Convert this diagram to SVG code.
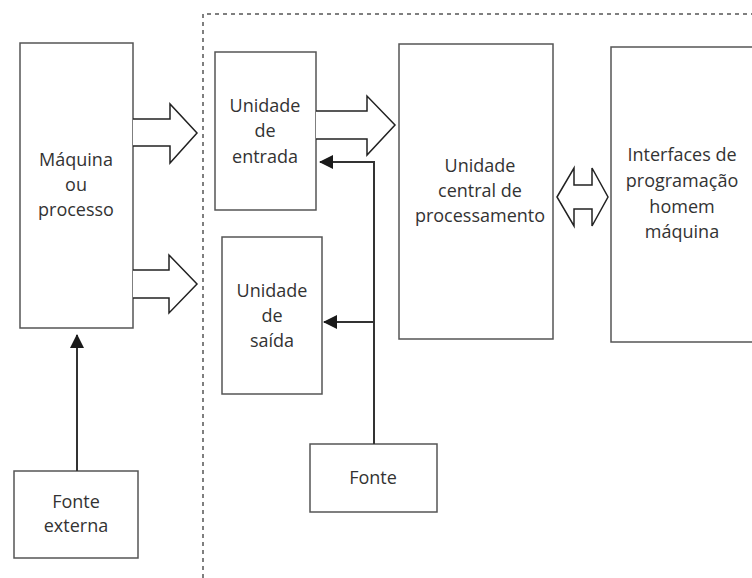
<svg xmlns="http://www.w3.org/2000/svg" width="752" height="578" viewBox="0 0 752 578">
  <defs>
    <marker id="head" viewBox="0 0 14 14" refX="13" refY="7" markerWidth="14" markerHeight="14" markerUnits="userSpaceOnUse" orient="auto">
      <path d="M0,0 L14,7 L0,14 Z" fill="#1a1a1a"/>
    </marker>
  </defs>
  <style>
    .box { fill: #ffffff; stroke: #555555; stroke-width: 1.5; }
    .lbl { font-family: "Open Sans", "Noto Sans", "Liberation Sans", sans-serif; font-size: 18px; fill: #333333; text-anchor: middle; }
    .block { fill: #ffffff; stroke: #222222; stroke-width: 1.5; stroke-linejoin: miter; }
    .wire { fill: none; stroke: #333333; stroke-width: 2; }
    .boundary { fill: none; stroke: #555555; stroke-width: 1.5; stroke-dasharray: 4 4; }
  </style>
  <rect width="752" height="578" fill="#ffffff"/>

  <!-- controller boundary -->
  <path class="boundary" d="M203,578 L203,14 L752,14"/>

  <g id="maquina">
    <rect class="box" x="20" y="43" width="113" height="285"/>
    <text class="lbl" x="76" y="166">Máquina</text>
    <text class="lbl" x="76" y="191">ou</text>
    <text class="lbl" x="76" y="216">processo</text>
  </g>

  <g id="entrada">
    <rect class="box" x="215" y="52" width="101" height="158"/>
    <text class="lbl" x="265" y="112">Unidade</text>
    <text class="lbl" x="265" y="137">de</text>
    <text class="lbl" x="265" y="163">entrada</text>
  </g>

  <g id="saida">
    <rect class="box" x="222" y="237" width="100" height="157"/>
    <text class="lbl" x="272" y="297">Unidade</text>
    <text class="lbl" x="272" y="322">de</text>
    <text class="lbl" x="272" y="347">saída</text>
  </g>

  <g id="cpu">
    <rect class="box" x="399" y="44" width="154" height="295"/>
    <text class="lbl" x="480" y="172">Unidade</text>
    <text class="lbl" x="480" y="197">central de</text>
    <text class="lbl" x="480" y="222">processamento</text>
  </g>

  <g id="ihm">
    <rect class="box" x="611" y="47" width="145" height="295"/>
    <text class="lbl" x="682" y="161">Interfaces de</text>
    <text class="lbl" x="682" y="187">programação</text>
    <text class="lbl" x="682" y="213">homem</text>
    <text class="lbl" x="682" y="238">máquina</text>
  </g>

  <g id="fonte">
    <rect class="box" x="310" y="444" width="127" height="68"/>
    <text class="lbl" x="373" y="484">Fonte</text>
  </g>

  <g id="fonte-externa">
    <rect class="box" x="14" y="471" width="124" height="87"/>
    <text class="lbl" x="76" y="508">Fonte</text>
    <text class="lbl" x="76" y="532">externa</text>
  </g>

  <g id="connectors">
    <!-- signal block arrows -->
    <path class="block" d="M133,119 L170,119 L170,104 L197,133 L170,163 L170,146 L133,146"/>
    <path class="block" d="M133,270 L169,270 L169,255 L197,284 L169,313 L169,298 L133,298"/>
    <path class="block" d="M316,111 L367,111 L367,96 L395,125 L367,155 L367,139 L316,139"/>
    <!-- bidirectional data bus -->
    <path class="block" d="M557,197 L574,168 L574,185 L592,185 L592,168 L608,197 L592,226 L592,209 L574,209 L574,226 Z"/>
    <!-- power supply wiring -->
    <path class="wire" d="M374,444 L374,162 L320,162" marker-end="url(#head)"/>
    <path class="wire" d="M374,322 L324,322" marker-end="url(#head)"/>
    <path class="wire" d="M77,471 L77,335" marker-end="url(#head)"/>
  </g>
</svg>
